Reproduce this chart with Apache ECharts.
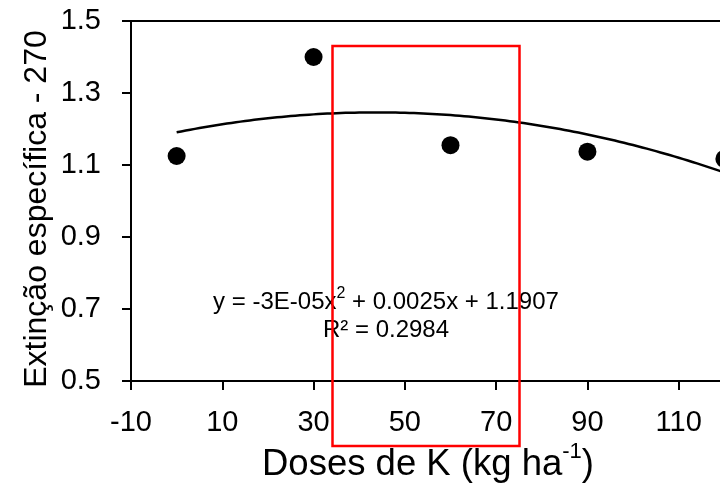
<!DOCTYPE html>
<html><head><meta charset="utf-8">
<script src="https://cdn.jsdelivr.net/npm/echarts@6/dist/echarts.min.js"></script>
<style>html,body{margin:0;padding:0;background:#fff}#c{width:720px;height:485px}</style>
</head><body><div id="c"></div>
<script>
// data
const doses = [0, 30, 60, 90, 120];
const extincao = [1.125, 1.40, 1.155, 1.137, 1.117];
// axis ticks
const xTicks = [-10, 10, 30, 50, 70, 90, 110, 130];
const yTicks = [0.5, 0.7, 0.9, 1.1, 1.3, 1.5];
const eqLine1 = ['y = -3E-05x', '2', ' + 0.0025x + 1.1907'];
const eqLine2 = 'R² = 0.2984';
const xTitle = ['Doses de K (kg ha', '-1', ')'];
const yTitle = 'Extinção específica - 270';

// shift axes so that min is a multiple of interval
const xOff = -xTicks[0];           // 10
const yOff = yTicks[0];            // 0.5
const xStep = xTicks[1] - xTicks[0];
const yStep = +(yTicks[1] - yTicks[0]).toFixed(2);

// quadratic least squares fit
function quadFit(xs, ys) {
  let S = [0,0,0,0,0], T = [0,0,0];
  xs.forEach((x, i) => {
    for (let k = 0; k < 5; k++) S[k] += Math.pow(x, k);
    for (let k = 0; k < 3; k++) T[k] += Math.pow(x, k) * ys[i];
  });
  const A = [[S[0],S[1],S[2],T[0]],[S[1],S[2],S[3],T[1]],[S[2],S[3],S[4],T[2]]];
  for (let i = 0; i < 3; i++) {
    for (let j = i + 1; j < 3; j++) {
      const f = A[j][i] / A[i][i];
      for (let k = i; k < 4; k++) A[j][k] -= f * A[i][k];
    }
  }
  const c = [0,0,0];
  for (let i = 2; i >= 0; i--) {
    let s = A[i][3];
    for (let k = i + 1; k < 3; k++) s -= A[i][k] * c[k];
    c[i] = s / A[i][i];
  }
  return c;
}
const coef = quadFit(doses, extincao);
const fitPts = [];
const x0 = doses[0], x1 = doses[doses.length - 1];
for (let i = 0; i <= 120; i++) {
  const x = x0 + (x1 - x0) * i / 120;
  fitPts.push([x + xOff, coef[0] + coef[1] * x + coef[2] * x * x - yOff]);
}

const FONT = "'Liberation Sans', Arial, sans-serif";
const chart = echarts.init(document.getElementById('c'), null, {renderer: 'canvas'});
chart.setOption({
  animation: false,
  backgroundColor: '#fff',
  grid: {left: 131, top: 21, width: 639, height: 360, containLabel: false, outerBoundsMode: 'none'},
  xAxis: [{
    type: 'value', position: 'bottom',
    min: 0, max: xTicks[xTicks.length - 1] + xOff, interval: xStep,
    axisLine: {show: true, onZero: false, lineStyle: {color: '#000', width: 2}},
    axisTick: {show: true, length: 9, lineStyle: {color: '#000', width: 2}},
    axisLabel: {color: '#000', fontSize: 29, fontFamily: FONT, margin: 27,
      formatter: v => String(Math.round(v - xOff))},
    splitLine: {show: false}
  }, {
    type: 'value', position: 'top',
    min: 0, max: xTicks[xTicks.length - 1] + xOff, interval: xStep,
    axisLine: {show: true, onZero: false, lineStyle: {color: '#000', width: 2}},
    axisTick: {show: false}, axisLabel: {show: false}, splitLine: {show: false}
  }],
  yAxis: {
    type: 'value', min: 0, max: +(yTicks[yTicks.length - 1] - yOff).toFixed(2), interval: yStep,
    axisLine: {show: true, onZero: false, lineStyle: {color: '#000', width: 2}},
    axisTick: {show: true, length: 9, lineStyle: {color: '#000', width: 2}},
    axisLabel: {color: '#000', fontSize: 29, fontFamily: FONT, margin: 30,
      formatter: v => (v + yOff).toFixed(1)},
    splitLine: {show: false}
  },
  series: [{
    type: 'line', data: fitPts, showSymbol: false, symbol: 'none', smooth: false,
    lineStyle: {color: '#000', width: 2.5}, clip: false, z: 2
  }, {
    type: 'scatter', data: doses.map((x, i) => [x + xOff, extincao[i] - yOff]),
    symbol: 'circle', symbolSize: 18, itemStyle: {color: '#000', opacity: 1}, clip: false, z: 3
  }],
  graphic: [{
    type: 'text', x: 386, y: 300, z: 10,
    style: {
      text: '{a|' + eqLine1[0] + '}{s|' + eqLine1[1] + '}{a|' + eqLine1[2] + '}',
      align: 'center', verticalAlign: 'middle',
      rich: {
        a: {fontSize: 24, fontFamily: FONT, fill: '#000', lineHeight: 28, verticalAlign: 'bottom'},
        s: {fontSize: 16, fontFamily: FONT, fill: '#000', lineHeight: 28, verticalAlign: 'top'}
      }
    }
  }, {
    type: 'text', x: 386, y: 330, z: 10,
    style: {text: eqLine2, font: '24px ' + FONT, fill: '#000', align: 'center', verticalAlign: 'middle'}
  }, {
    type: 'text', x: 428, y: 462, z: 10,
    style: {
      text: '{a|' + xTitle[0] + '}{s|' + xTitle[1] + '}{a|' + xTitle[2] + '}',
      align: 'center', verticalAlign: 'middle',
      rich: {
        a: {fontSize: 36.5, fontFamily: FONT, fill: '#000', lineHeight: 42, verticalAlign: 'bottom'},
        s: {fontSize: 22, fontFamily: FONT, fill: '#000', lineHeight: 42, verticalAlign: 'top'}
      }
    }
  }, {
    type: 'text', x: 37, y: 209, rotation: Math.PI / 2, z: 10,
    style: {text: yTitle, font: '32px ' + FONT, fill: '#000', align: 'center', verticalAlign: 'middle'}
  }, {
    type: 'rect', z: 20,
    shape: {x: 332.5, y: 46, width: 187, height: 400},
    style: {fill: 'none', stroke: '#ff0000', lineWidth: 2.5}
  }]
});
</script></body></html>
